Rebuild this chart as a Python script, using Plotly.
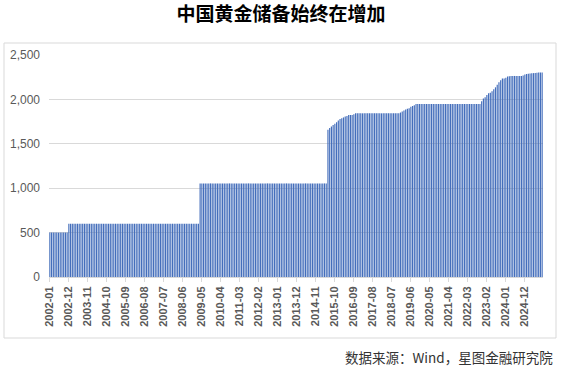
import plotly.graph_objects as go

# Monthly categories 2002-01 .. 2025-10
years = list(range(2002, 2026))
months = [f"{m:02d}" for m in range(1, 13)]
categories = [f"{y}-{m}" for y in years for m in months][:286]

# China gold reserves (tonnes), as (value, run length) segments
seg_2002 = [(500, 11), (600, 76), (1054, 74)]
seg_2015_2016 = [1658, 1677, 1694, 1711, 1726, 1743, 1762, 1778, 1788, 1797,
                 1808, 1814, 1823, 1823, 1823, 1834]
flat_2016 = (1843, 26)
seg_2019 = [1852, 1864, 1874, 1885, 1895, 1900, 1916, 1926, 1934]
flat_2019 = (1948, 38)
seg_2022_2024 = [1980, 2010, 2025, 2050, 2068, 2076, 2092, 2113, 2136, 2165,
                 2192, 2215, 2235, 2235, 2245, 2257, 2262]
flat_2024 = (2264, 7)
seg_2024_2025 = [2269, 2280, 2285, 2289, 2292, 2294, 2296, 2298, 2300, 2302,
                 2303, 2304]

values = []
for v, n in seg_2002:
    values += [v] * n
values += seg_2015_2016
values += [flat_2016[0]] * flat_2016[1]
values += seg_2019
values += [flat_2019[0]] * flat_2019[1]
values += seg_2022_2024
values += [flat_2024[0]] * flat_2024[1]
values += seg_2024_2025

tick_labels = categories[::11]
y_ticks = [0, 500, 1000, 1500, 2000, 2500]

title_text = "中国黄金储备始终在增加"
source_text = "数据来源：Wind，星图金融研究院"

W, H = 562, 371
L, R, T, B = 49, 543, 55, 277
pw, ph = R - L, B - T

def px(x):
    return (x - L) / pw

def py(y):
    return (B - y) / ph

fig = go.Figure()
fig.add_trace(go.Bar(
    x=categories, y=values,
    marker=dict(color="rgba(66,108,186,0.99)", line=dict(width=0)),
    hoverinfo="x+y",
))

fig.update_layout(
    width=W, height=H,
    margin=dict(l=L, r=W - R, t=T, b=H - B, autoexpand=False),
    paper_bgcolor="white", plot_bgcolor="white",
    bargap=0.32,
    showlegend=False,
    font=dict(family="Noto Sans CJK SC, DejaVu Sans, sans-serif", color="#595959"),
    title=dict(
        text=title_text, x=0.5, xanchor="center", y=1 - 14 / H, yanchor="middle",
        font=dict(family="Noto Sans CJK SC", size=19, color="#000000", weight="bold"),
    ),
    xaxis=dict(
        type="category",
        tickmode="array", tickvals=tick_labels, ticktext=tick_labels,
        tickangle=-90,
        tickfont=dict(size=11, color="#595959", family="Liberation Sans, Arial", weight="bold"),
        showgrid=False,
        showline=True, linecolor="#D9D9D9", linewidth=1,
        ticks="outside", ticklen=4, tickcolor="#D9D9D9",
        range=[-0.5, len(categories) - 0.5],
    ),
    yaxis=dict(
        range=[0, 2500],
        tickvals=y_ticks, tickformat=",",
        tickfont=dict(size=12, color="#595959", family="Liberation Sans, Arial"),
        showgrid=True, gridcolor="#D9D9D9", gridwidth=1,
        zeroline=False, showline=False,
        ticks="", ticklabelstandoff=8,
    ),
    shapes=[dict(
        type="rect", xref="paper", yref="paper",
        x0=px(4), x1=px(556), y0=py(338), y1=py(43),
        line=dict(color="#D9D9D9", width=1), fillcolor="rgba(0,0,0,0)", layer="below",
    )],
    annotations=[dict(
        text=source_text, xref="paper", yref="paper",
        x=px(555), y=py(357), xanchor="right", yanchor="middle", showarrow=False,
        font=dict(family="Noto Sans CJK SC", size=13.5, color="#333333"),
    )],
)

fig.write_html(
    "out.html",
    config={"displayModeBar": False},
    post_script="document.body.style.margin='0';document.body.style.overflow='hidden';",
)
